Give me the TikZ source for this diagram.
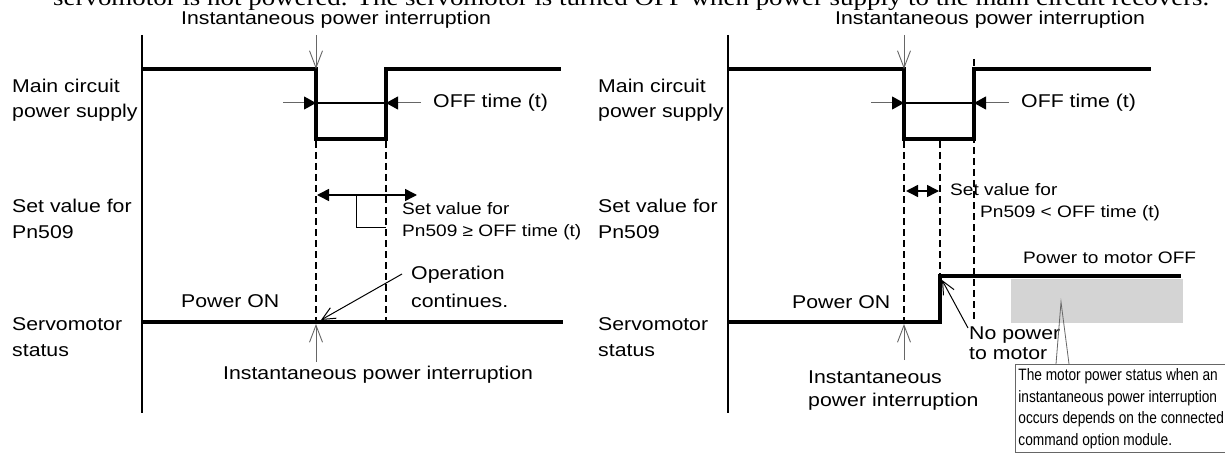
\documentclass[tikz,border=0pt]{standalone}
\usepackage{fontspec}
\setmainfont[FakeStretch=1.15]{Liberation Sans}
\newfontfamily\notefont[FakeStretch=0.83]{Liberation Sans}
\newfontfamily\bodyfont[FakeStretch=1.15]{Liberation Serif}
\usetikzlibrary{arrows.meta}

\definecolor{boxgray}{gray}{0.83}
\definecolor{pointgray}{gray}{0.4}

\tikzset{
  lbl/.style={anchor=west, inner sep=0pt, align=left, font=\fontsize{18.5}{25.5}\selectfont},
  small/.style={font=\fontsize{16.6}{22}\selectfont},
  sig/.style={line width=3.2pt},
  axisline/.style={line width=2pt},
  guide/.style={line width=1.3pt, dash pattern=on 7pt off 4pt},
  irq/.style={line width=0.9pt, pointgray, -{Straight Barb[length=17pt,width=13pt,line width=0.9pt]}},
  offarrow/.style={line width=1pt, pointgray, -{Triangle[length=12pt,width=13pt,color=black]}},
  setarrow/.style={line width=1.5pt, {Triangle[length=12pt,width=12pt]}-{Triangle[length=12pt,width=12pt]}},
  callarrow/.style={line width=1pt, -{Straight Barb[length=13pt,width=12pt,line width=1pt]}}
}

\begin{document}
\begin{tikzpicture}[x=1pt,y=-1pt]
  \useasboundingbox (0,0) rectangle (1225,457);
  \clip (0,0) rectangle (1225,457);

  % Page text above the figure (cut off)
  \node[anchor=base west,inner sep=0pt,font=\bodyfont\fontsize{23.4}{28}\selectfont] (lead) at (53,6)
    {servomotor is not powered. The servomotor is turned OFF when power supply to the main circuit recovers.};

  % Axes and row labels
  \foreach \x in {142,728} \draw[axisline] (\x,35) -- (\x,413);
  \foreach \x/\n in {12/A,598/B} {
    \node[lbl] (main\n) at (\x,100) {Main circuit\\power supply};
    \node[lbl] (set\n) at (\x,219) {Set value for\\Pn509};
    \node[lbl] (servo\n) at (\x,337) {Servomotor\\status};
  }

  % Left: Pn509 >= OFF time
  \coordinate (dnA) at (316,69);
  \coordinate (upA) at (386,69);
  \draw[sig] (142,69) -- (dnA) -- ++(0,70) -| (upA) -- (561,69);
  \draw[guide] (316,141) -- (316,322);
  \draw[guide] (386,141) -- (386,322);
  \draw[sig] (142,322) -- (563,322);
  \node[lbl] (irqA) at (181,20) {Instantaneous power interruption};
  \draw[irq] (dnA) ++(0,-34) -- (dnA);
  \draw[line width=1.2pt] (316,103) -- (386,103);
  \draw[offarrow] (283,103) -- (316,103);
  \node[lbl] (offA) at (433,103) {OFF time (t)};
  \draw[offarrow] ([xshift=-12pt]offA.west) -- (386,103);
  \draw[setarrow] (317,195) -- (417,195);
  \draw[line width=1pt] (356,195) |- (386,227);
  \node[lbl,small] (valA) at (402,221) {Set value for\\Pn509 ≥ OFF time (t)};
  \node[lbl,font=\fontsize{18.5}{28}\selectfont] (opA) at (411,287) {Operation\\continues.};
  \coordinate (opTail) at (402,274);
  \draw[callarrow] (opTail) -- (321,320);
  \node[lbl] (onA) at (181,301) {Power ON};
  \node[lbl] (irqA2) at (223,375) {Instantaneous power interruption};
  \draw[irq] (316,362) -- (316,324);

  % Right: Pn509 < OFF time
  \coordinate (dnB) at (904,69);
  \coordinate (upB) at (974,69);
  \draw[sig] (728,69) -- (dnB) -- ++(0,70) -| (upB) -- (1151,69);
  \draw[guide] (904,141) -- (904,322);
  \draw[guide] (940,141) -- (940,276);
  \draw[guide] (974,59) -- (974,322);
  \fill[boxgray] (1011,279) rectangle (1183,323);
  \draw[sig] (728,322) -| (940,276) -- (1181,276);
  \node[lbl] (irqB) at (835,20) {Instantaneous power interruption};
  \draw[irq] (dnB) ++(0,-34) -- (dnB);
  \draw[line width=1.2pt] (904,103) -- (974,103);
  \draw[offarrow] (871,103) -- (904,103);
  \node[lbl] (offB) at (1021,103) {OFF time (t)};
  \draw[offarrow] ([xshift=-12pt]offB.west) -- (974,103);
  \draw[setarrow] (906,191) -- (939,191);
  \node[lbl,small] (valB) at (950,190) {Set value for};
  \node[lbl,small] (valB2) at (980,213) {Pn509 < OFF time (t)};
  \node[lbl,small] (offMotor) at (1023,258) {Power to motor OFF};
  \node[lbl] (onB) at (792,302) {Power ON};
  \node[lbl,font=\fontsize{18.5}{20}\selectfont] (noPow) at (969,343) {No power\\to motor};
  \coordinate (noTail) at (968,328);
  \draw[callarrow] (noTail) -- (942,280);
  \draw[irq] (904,360) -- (904,324);
  \node[lbl,font=\fontsize{18.5}{23}\selectfont] (irqB2) at (808,391) {Instantaneous\\power interruption};

  % Note on motor power status
  \node[draw=pointgray,line width=0.8pt,anchor=north west,inner xsep=3pt,inner ysep=4pt,
        minimum width=207pt,align=left,font=\notefont\fontsize{16.5}{21.7}\selectfont] (note) at (1015,364)
    {The motor power status when an\\instantaneous power interruption\\occurs depends on the connected\\command option module.};
  \draw[line width=0.8pt,pointgray] (1056,364) -- (1061,302) -- (1069,364);
\end{tikzpicture}
\end{document}
